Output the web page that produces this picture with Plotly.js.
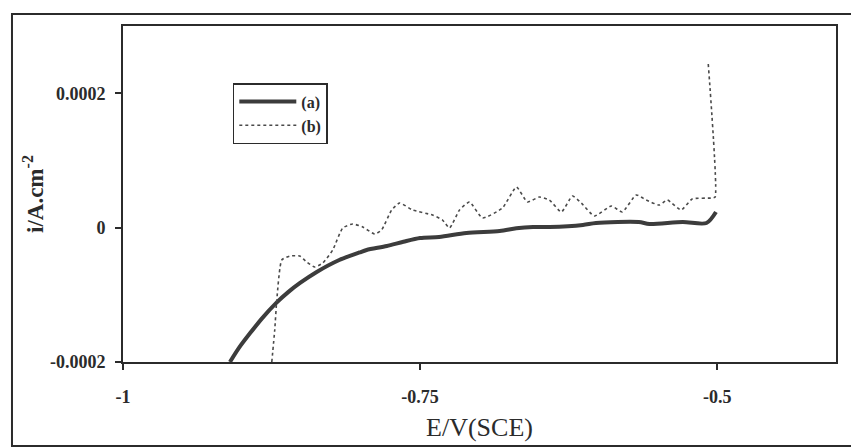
<!DOCTYPE html>
<html>
<head>
<meta charset="utf-8">
<script src="https://cdn.plot.ly/plotly-3.0.1.min.js"></script>
<style>html,body{margin:0;padding:0;background:#fff;}#chart{width:851px;height:448px;}</style>
</head>
<body>
<div id="chart"></div>
<script>
// Series (a): E (V vs SCE) and i (A.cm^-2)
const aE = [-0.910, -0.902, -0.893, -0.883, -0.871, -0.861, -0.851, -0.837, -0.818, -0.801, -0.795, -0.778, -0.764, -0.750, -0.734, -0.711, -0.683, -0.669, -0.655, -0.641, -0.613, -0.602, -0.566, -0.557, -0.529, -0.509, -0.501];
const aI = [-0.000200, -0.000178, -0.000157, -0.000135, -0.000112, -0.000096, -0.0000824, -0.000066, -0.0000482, -0.0000370, -0.0000333, -0.0000274, -0.0000210, -0.0000155, -0.0000140, -0.0000080, -0.0000050, -0.0000010, 0.0000010, 0.0000010, 0.0000040, 0.0000070, 0.0000083, 0.0000054, 0.0000083, 0.0000068, 0.0000232];

// Series (b)
const bE = [-0.8748, -0.8723, -0.8706, -0.8664, -0.8597, -0.8513, -0.8454, -0.8387, -0.8319, -0.8235, -0.8151, -0.8067, -0.7983, -0.7882, -0.7824, -0.7739, -0.7672, -0.7563, -0.7395, -0.7311, -0.7252, -0.7168, -0.7084, -0.6975, -0.6807, -0.6689, -0.6597, -0.6496, -0.6412, -0.6311, -0.6218, -0.6143, -0.6034, -0.5891, -0.5798, -0.5681, -0.5597, -0.5487, -0.5420, -0.5303, -0.5210, -0.5042, -0.5017, -0.5076];
const bI = [-0.000200, -0.000152, -0.000108, -0.0000482, -0.0000423, -0.0000423, -0.0000512, -0.0000586, -0.0000527, -0.0000333, -0.0000006, 0.0000054, 0.0000009, -0.0000095, -0.0000036, 0.0000262, 0.0000366, 0.0000262, 0.0000187, 0.0000113, -0.0000006, 0.0000262, 0.0000381, 0.0000143, 0.0000292, 0.0000604, 0.0000381, 0.0000455, 0.0000411, 0.0000232, 0.0000470, 0.0000366, 0.0000173, 0.0000321, 0.0000232, 0.0000485, 0.0000411, 0.0000336, 0.0000411, 0.0000262, 0.0000426, 0.0000440, 0.0000455, 0.000246];

const xTickVals = [-1, -0.75, -0.5];
const xTickText = ['-1', '-0.75', '-0.5'];
const yTickVals = [-0.0002, 0, 0.0002];
const yTickText = ['-0.0002', '0', '0.0002'];
const seriesNames = ['(a)', '(b)'];

const serif = 'Liberation Serif, Times New Roman, serif';
const ink = '#2b2b2b';

const traces = [
  {x: aE, y: aI, name: seriesNames[0], legendgroup: 'a', mode: 'lines',
   line: {color: '#3c3c3c', width: 4, shape: 'spline', smoothing: 0.8}},
  {x: bE, y: bI, name: seriesNames[1], legendgroup: 'b', mode: 'lines',
   line: {color: '#4a4a4a', width: 1.6, dash: 'dot', shape: 'spline', smoothing: 0.5}}
];

const layout = {
  width: 851, height: 448,
  margin: {l: 123, r: 15, t: 26, b: 86},
  paper_bgcolor: '#fff', plot_bgcolor: '#fff',
  font: {family: serif, color: ink},
  showlegend: true,
  legend: {
    x: 0.154, y: 0.83, xanchor: 'left', yanchor: 'top',
    bgcolor: '#fff', bordercolor: ink, borderwidth: 1.5,
    font: {family: serif, size: 16, color: ink, weight: 'bold'},
    itemwidth: 57, tracegroupgap: 0
  },
  xaxis: {
    range: [-1, -0.4], tickvals: xTickVals, ticktext: xTickText,
    showgrid: false, zeroline: false,
    showline: true, linecolor: ink, linewidth: 2, mirror: true,
    ticks: 'outside', ticklen: 6, tickwidth: 2, tickcolor: ink,
    ticklabelstandoff: 11,
    tickfont: {family: serif, size: 18, color: ink, weight: 'bold'},
    title: {text: 'E/V(SCE)', font: {family: serif, size: 26, color: ink}, standoff: 12}
  },
  yaxis: {
    range: [-0.0002, 0.0003], tickvals: yTickVals, ticktext: yTickText,
    showgrid: false, zeroline: false,
    showline: true, linecolor: ink, linewidth: 2, mirror: true,
    ticks: 'outside', ticklen: 6, tickwidth: 2, tickcolor: ink,
    ticklabelstandoff: 6,
    tickfont: {family: serif, size: 18, color: ink, weight: 'bold'},
    title: {text: 'i/A.cm<sup>-2</sup>', font: {family: serif, size: 23, color: ink, weight: 'bold'}, standoff: 0}
  },
  shapes: [
    {type: 'rect', xref: 'paper', yref: 'paper',
     x0: -0.1557, x1: 1.03, y0: -0.25, y1: 1.036,
     line: {color: ink, width: 2}, fillcolor: 'rgba(0,0,0,0)', layer: 'below'}
  ]
};

Plotly.newPlot('chart', traces, layout, {displayModeBar: false, staticPlot: true});
</script>
</body>
</html>
